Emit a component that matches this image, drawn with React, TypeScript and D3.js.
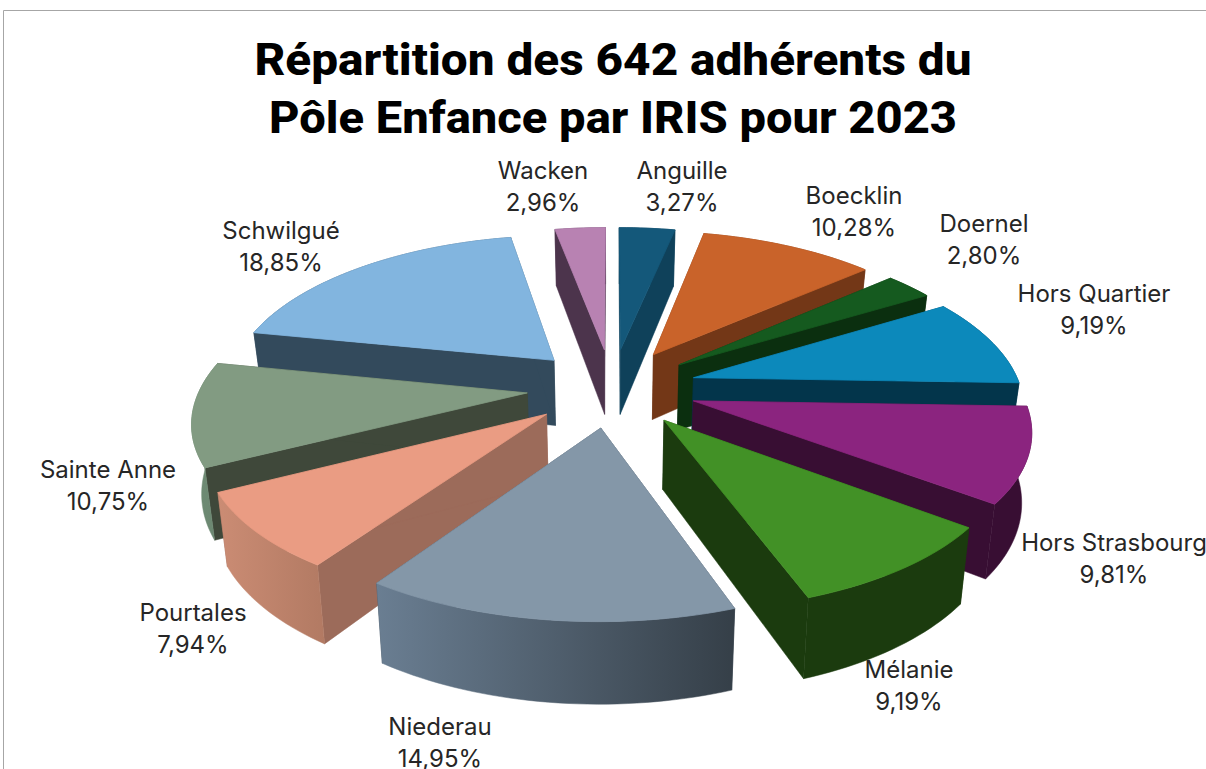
import React from "react";
import * as d3 from "d3";

const categories = ["Anguille","Boecklin","Doernel","Hors Quartier","Hors Strasbourg","Mélanie","Niederau","Pourtales","Sainte Anne","Schwilgué","Wacken"];
const shares = [3.27,10.28,2.80,9.19,9.81,9.19,14.95,7.94,10.75,18.85,2.96];
const titleLines = ["Répartition des 642 adhérents du","Pôle Enfance par IRIS pour 2023"];

const topColors = ["#14587A","#C9632A","#155A1F","#0C89BB","#8B247F","#429126","#8497A8","#EA9C83","#829B82","#82B5DF","#B882B2"];
const wallColors = ["#0F415A","#733717","#0B2F0F","#03354B","#380E33","#1B3B0E","#3F4C58","#9C6B5A","#3F483A","#334A5C","#4C344C"];
const outerStart = ["#0F415A","#733717","#0B2F0F","#03354B","#380E33","#1B3B0E","#6A7E92","#CB8C74","#6F8C74","#334A5C","#4C344C"];
const outerEnd = ["#0F415A","#733717","#0B2F0F","#03354B","#380E33","#1B3B0E","#353F48","#B27A63","#6A8570","#334A5C","#4C344C"];

const labelCx = [682,854,984,1094,1114,909,440,193,108,281,543];
const labelBase = [179,204,232,302,551,678,735,621,478,239,179];

const CX = 612, CY = 387.5, R = 327, RY = 151, KX = 0.16, KY = 0.15, EXPLODE = 0.26, H = 67, SHRINK = 0.976;

type P = [number, number];
const project = (u: number, v: number): { x: number; y: number; p: number } => {
  const p = 1 / (1 - KY * v);
  return { x: CX + R * u / (1 - KX * v), y: CY + RY * v * p, p };
};
const bottom = (t: { x: number; y: number; p: number }): P => [CX + (t.x - CX) * SHRINK, t.y + H * t.p];

const pie = d3.pie<number>().sort(null).startAngle(0).endAngle(2 * Math.PI);
const arcs = pie(shares);
const poly = d3.line<P>();

const slices = arcs.map((a, i) => {
  const mid = (a.startAngle + a.endAngle) / 2;
  const ou = EXPLODE * Math.sin(mid), ov = -EXPLODE * Math.cos(mid);
  const n = Math.max(6, Math.round((a.endAngle - a.startAngle) * 40));
  const angles = d3.range(n + 1).map(j => a.startAngle + (a.endAngle - a.startAngle) * j / n);
  const rim = angles.map(t => project(ou + Math.sin(t), ov - Math.cos(t)));
  const apex = project(ou, ov);
  const rimTop: P[] = rim.map(q => [q.x, q.y]);
  const rimBot: P[] = rim.map(bottom);
  const apexTop: P = [apex.x, apex.y];
  const apexBot = bottom(apex);
  const top = poly([apexTop, ...rimTop])! + "Z";
  const wallA = poly([apexTop, rimTop[0], rimBot[0], apexBot])! + "Z";
  const wallB = poly([apexTop, rimTop[n], rimBot[n], apexBot])! + "Z";
  const outer = poly([...rimTop, ...rimBot.slice().reverse()])! + "Z";
  return { i, depth: -Math.cos(mid), top, wallA, wallB, outer };
}).sort((a, b) => d3.ascending(a.depth, b.depth));

const labelFont = "Inter, 'Noto Sans', sans-serif";
const titleFont = "Roboto, Inter, sans-serif";

export default function App() {
  return (
    <svg width={1206} height={769} style={{ position: "absolute", left: 0, top: 0, background: "#fff" }}>
      <defs>
        {categories.map((_, i) => (
          <linearGradient key={i} id={`outer${i}`} x1="0" x2="1" y1="0" y2="0">
            <stop offset="0" stopColor={outerStart[i]} />
            <stop offset="1" stopColor={outerEnd[i]} />
          </linearGradient>
        ))}
      </defs>
      <path d="M3.5,769V10.5H1206" fill="none" stroke="#A6A6A6" strokeWidth={1} />
      {titleLines.map((t, i) => (
        <text key={i} x={613} y={75 + i * 58} textAnchor="middle" fontFamily={titleFont} fontWeight={800} fontSize={44} fill="#000"
          textLength={i === 0 ? 717 : 688} lengthAdjust="spacingAndGlyphs">{t}</text>
      ))}
      {slices.map(s => (
        <g key={s.i}>
          <path d={s.wallA} fill={wallColors[s.i]} stroke={wallColors[s.i]} strokeWidth={0.5} />
          <path d={s.wallB} fill={wallColors[s.i]} stroke={wallColors[s.i]} strokeWidth={0.5} />
          <path d={s.outer} fill={`url(#outer${s.i})`} stroke={`url(#outer${s.i})`} strokeWidth={0.5} />
          <path d={s.top} fill={topColors[s.i]} stroke={topColors[s.i]} strokeWidth={0.8} />
        </g>
      ))}
      {categories.map((c, i) => (
        <text key={c} textAnchor="middle" fontFamily={labelFont} fontSize={24} fill="#262626">
          <tspan x={labelCx[i]} y={labelBase[i]}>{c}</tspan>
          <tspan x={labelCx[i]} y={labelBase[i] + 32}>{d3.format(".2f")(shares[i]).replace(".", ",")}%</tspan>
        </text>
      ))}
    </svg>
  );
}
